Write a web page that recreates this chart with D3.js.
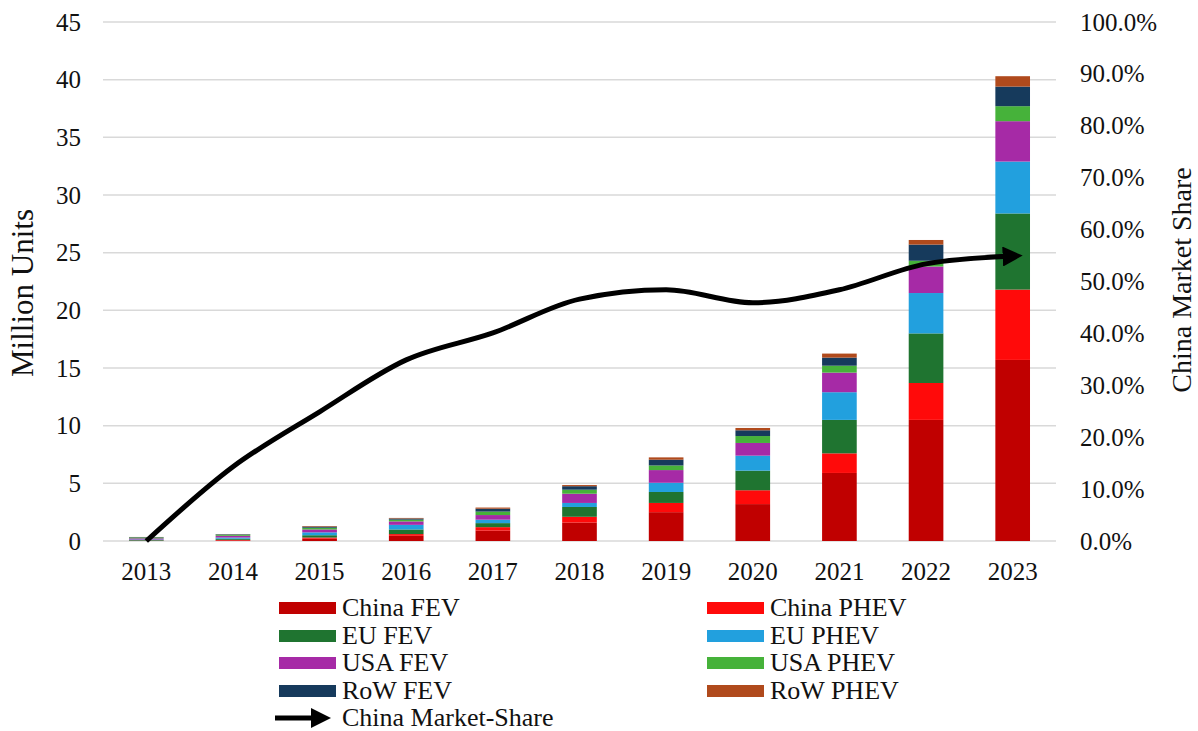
<!DOCTYPE html>
<html><head><meta charset="utf-8">
<script src="https://cdn.jsdelivr.net/npm/d3@7/dist/d3.min.js"></script>
<style>
html,body{margin:0;padding:0;background:#fff;}
svg{display:block;font-family:"Liberation Serif","Times New Roman",serif;}
</style></head>
<body>
<svg id="chart" width="1198" height="731"></svg>
<script>
const years = ["2013","2014","2015","2016","2017","2018","2019","2020","2021","2022","2023"];
const seriesNames = ["China FEV","China PHEV","EU FEV","EU PHEV","USA FEV","USA PHEV","RoW FEV","RoW PHEV"];
const seriesColors = ["#c00000","#ff0a0a","#1f7430","#22a0de","#a62aa6","#46b23a","#163a5c","#b04a1c"];
const chinaFEV  = [0.02,0.05,0.2,0.45,0.9,1.6,2.5,3.2,5.9,10.5,15.7];
const chinaPHEV = [0.01,0.05,0.1,0.15,0.3,0.5,0.8,1.2,1.7,3.2,6.1];
const euFEV     = [0.05,0.1,0.2,0.4,0.35,0.85,0.95,1.7,2.9,4.3,6.6];
const euPHEV    = [0.05,0.1,0.25,0.4,0.3,0.35,0.8,1.3,2.4,3.5,4.5];
const usaFEV    = [0.1,0.15,0.25,0.3,0.4,0.8,1.1,1.1,1.7,2.3,3.5];
const usaPHEV   = [0.08,0.1,0.15,0.15,0.3,0.35,0.4,0.6,0.6,0.5,1.3];
const rowFEV    = [0.03,0.04,0.1,0.1,0.25,0.3,0.5,0.5,0.7,1.4,1.7];
const rowPHEV   = [0.01,0.01,0.05,0.05,0.1,0.1,0.2,0.2,0.35,0.4,0.9];
const chinaShare = [0.0,14.3,24.9,34.9,40.1,46.6,48.4,45.9,48.4,53.4,54.9];
const leftTicks = [0,5,10,15,20,25,30,35,40,45];
const rightTicks = [0,10,20,30,40,50,60,70,80,90,100];

const seriesValues = [chinaFEV,chinaPHEV,euFEV,euPHEV,usaFEV,usaPHEV,rowFEV,rowPHEV];
const rows = years.map((y,i)=>{const r={year:y}; seriesNames.forEach((s,k)=>r[s]=seriesValues[k][i]); return r;});

const svg = d3.select("#chart");
const m = {left:103, right:1056, top:22, bottom:541};
const x = d3.scaleBand().domain(years).range([m.left,m.right]).paddingInner(0.6).paddingOuter(0.3);
const y = d3.scaleLinear().domain([0,45]).range([m.bottom,m.top]);
const y2 = d3.scaleLinear().domain([0,100]).range([m.bottom,m.top]);

// grid
svg.append("g").selectAll("line").data(leftTicks).join("line")
  .attr("x1",m.left).attr("x2",m.right)
  .attr("y1",d=>y(d)).attr("y2",d=>y(d))
  .attr("stroke","#d9d9d9").attr("stroke-width",1.5);

// left axis
const la = svg.append("g").attr("transform",`translate(${m.left-10},0)`)
  .call(d3.axisLeft(y).tickValues(leftTicks).tickSize(0).tickPadding(12));
la.select(".domain").remove();
la.selectAll("text").attr("font-size",25).attr("font-family","Liberation Serif").attr("fill","#111");

// right axis
const ra = svg.append("g").attr("transform",`translate(${m.right+14},0)`)
  .call(d3.axisRight(y2).tickValues(rightTicks).tickSize(0).tickPadding(10).tickFormat(d=>d.toFixed(1)+"%"));
ra.select(".domain").remove();
ra.selectAll("text").attr("font-size",25).attr("font-family","Liberation Serif").attr("fill","#111");

// x axis
const xa = svg.append("g").attr("transform",`translate(0,${m.bottom+11})`)
  .call(d3.axisBottom(x).tickSize(0).tickPadding(10));
xa.select(".domain").remove();
xa.selectAll("text").attr("font-size",25).attr("font-family","Liberation Serif").attr("fill","#111");

// axis titles
svg.append("text").attr("transform",`translate(33,293) rotate(-90)`)
  .attr("text-anchor","middle").attr("font-size",31).attr("fill","#111").text("Million Units");
svg.append("text").attr("transform",`translate(1191,280) rotate(-90)`)
  .attr("text-anchor","middle").attr("font-size",28).attr("fill","#111").text("China Market Share");

// stacked bars
const stack = d3.stack().keys(seriesNames)(rows);
const color = d3.scaleOrdinal().domain(seriesNames).range(seriesColors);
svg.append("g").selectAll("g").data(stack).join("g").attr("fill",d=>color(d.key))
  .selectAll("rect").data(d=>d).join("rect")
  .attr("x",d=>x(d.data.year)).attr("width",x.bandwidth())
  .attr("y",d=>y(d[1])).attr("height",d=>Math.max(0,y(d[0])-y(d[1])));

// arrow marker
const defs = svg.append("defs");
defs.append("marker").attr("id","arrow").attr("viewBox","0 0 10 10").attr("refX",5).attr("refY",5)
  .attr("markerWidth",4).attr("markerHeight",4).attr("orient","auto").attr("markerUnits","strokeWidth")
  .append("path").attr("d","M0,0 L10,5 L0,10 z").attr("fill","#000");

const line = d3.line().x((d,i)=>x(years[i])+x.bandwidth()/2).y(d=>y2(d)).curve(d3.curveMonotoneX);
svg.append("path").datum(chinaShare).attr("d",line).attr("fill","none")
  .attr("stroke","#000").attr("stroke-width",5).attr("marker-end","url(#arrow)");

// legend
const legendItems = [
  {name:"China FEV",col:0,row:0},{name:"China PHEV",col:1,row:0},
  {name:"EU FEV",col:0,row:1},{name:"EU PHEV",col:1,row:1},
  {name:"USA FEV",col:0,row:2},{name:"USA PHEV",col:1,row:2},
  {name:"RoW FEV",col:0,row:3},{name:"RoW PHEV",col:1,row:3}
];
const colX = [279,707], rowY = [608,636,663,691,718];
const lg = svg.append("g");
legendItems.forEach(it=>{
  const gx = colX[it.col], gy = rowY[it.row];
  lg.append("rect").attr("x",gx).attr("y",gy-6).attr("width",57).attr("height",12).attr("fill",color(it.name));
  lg.append("text").attr("x",gx+63).attr("y",gy+8).attr("font-size",26).attr("fill","#111").text(it.name);
});
lg.append("line").attr("x1",colX[0]-4).attr("x2",colX[0]+42).attr("y1",rowY[4]).attr("y2",rowY[4])
  .attr("stroke","#000").attr("stroke-width",5).attr("marker-end","url(#arrow)");
lg.append("text").attr("x",colX[0]+63).attr("y",rowY[4]+8).attr("font-size",26).attr("fill","#111").text("China Market-Share");
</script>
</body></html>
